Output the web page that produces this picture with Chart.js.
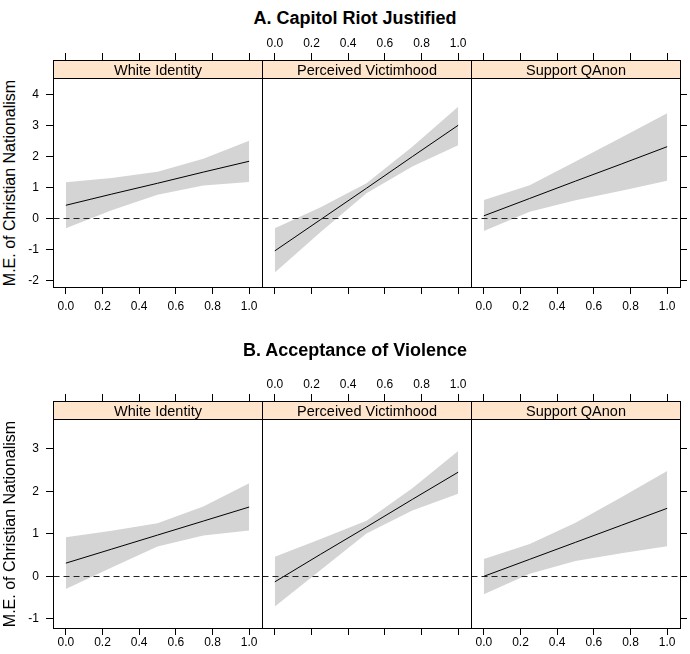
<!DOCTYPE html>
<html>
<head>
<meta charset="utf-8">
<script src="https://cdn.jsdelivr.net/npm/chart.js@4.4.0/dist/chart.umd.min.js"></script>
<style>
  body { margin: 0; background: #fff; }
  #wrap { position: relative; width: 690px; height: 654px; overflow: hidden; }
  #wrap canvas { position: absolute; left: 0; top: 0; }
  .title { position: absolute; left: 0; width: 710px; text-align: center;
           font: bold 18px "Liberation Sans", Arial, sans-serif; line-height: 18px; color: #000; }
  .ylab { position: absolute; white-space: nowrap; color: #000;
          font: 16px "Liberation Sans", Arial, sans-serif; line-height: 16px;
          transform: translate(-50%, -50%) rotate(-90deg); }
</style>
</head>
<body>
<div id="wrap"></div>
<script>
// shared axes
const xTicks = [0, 0.2, 0.4, 0.6, 0.8, 1.0];
const xGrid = [0, 0.25, 0.5, 0.75, 1.0];
const panelNames = ['White Identity', 'Perceived Victimhood', 'Support QAnon'];
const yLabel = 'M.E. of Christian Nationalism';

// A. Capitol Riot Justified
const riotTicksY = [-2, -1, 0, 1, 2, 3, 4];
const riotFit = [
  [0.42, 0.78, 1.13, 1.49, 1.84],
  [-1.05, -0.04, 0.97, 1.99, 3.00],
  [0.08, 0.64, 1.20, 1.75, 2.31]
];
const riotUpper = [
  [1.16, 1.30, 1.50, 1.92, 2.50],
  [-0.32, 0.36, 1.13, 2.31, 3.60],
  [0.59, 1.07, 1.83, 2.61, 3.39]
];
const riotLower = [
  [-0.32, 0.26, 0.76, 1.06, 1.17],
  [-1.75, -0.44, 0.81, 1.67, 2.36],
  [-0.41, 0.21, 0.58, 0.89, 1.21]
];

// B. Acceptance of Violence
const violTicksY = [-1, 0, 1, 2, 3];
const violFit = [
  [0.31, 0.64, 0.97, 1.30, 1.63],
  [-0.13, 0.52, 1.16, 1.81, 2.45],
  [0.00, 0.40, 0.80, 1.20, 1.60]
];
const violUpper = [
  [0.92, 1.07, 1.25, 1.64, 2.19],
  [0.46, 0.88, 1.31, 2.07, 2.95],
  [0.41, 0.76, 1.26, 1.86, 2.48]
];
const violLower = [
  [-0.30, 0.21, 0.70, 0.96, 1.08],
  [-0.71, 0.15, 1.01, 1.55, 1.94],
  [-0.42, 0.06, 0.36, 0.54, 0.71]
];

const FONT = '"Liberation Sans", Arial, Helvetica, sans-serif';
const W = 690, H = 654;
const colEdges = [53, 262, 471, 680];
const stripH = 18;
const tickLen = 7;

const rows = [
  { title: 'A. Capitol Riot Justified', titleTop: 9, fit: riotFit, upper: riotUpper, lower: riotLower,
    yTicks: riotTicksY, stripTop: 60, bottom: 287, yMin: -2.216, yMax: 5.106, hb: 30, bottomPad: 5.5 },
  { title: 'B. Acceptance of Violence', titleTop: 341, fit: violFit, upper: violUpper, lower: violLower,
    yTicks: violTicksY, stripTop: 401, bottom: 628, yMin: -1.216, yMax: 4.125, hb: 26, bottomPad: 0 }
];

const pts = (ys) => xGrid.map((x, i) => ({ x: x, y: ys[i] }));

// strip, border and dashed zero line for each panel
const panelDeco = {
  id: 'panelDeco',
  afterDatasetsDraw(chart, args, opts) {
    const ctx = chart.ctx;
    const a = chart.chartArea;
    const y0 = Math.round(chart.scales.y.getPixelForValue(0)) + 0.5;
    const l = Math.round(a.left) + 0.5, r = Math.round(a.right) + 0.5;
    const t = Math.round(a.top) + 0.5, b = Math.round(a.bottom) + 0.5;
    ctx.save();
    ctx.lineWidth = 1;
    ctx.strokeStyle = '#222';
    ctx.setLineDash([6, 4]);
    ctx.beginPath();
    ctx.moveTo(l, y0);
    ctx.lineTo(r, y0);
    ctx.stroke();
    ctx.setLineDash([]);
    ctx.fillStyle = '#ffe5cc';
    ctx.fillRect(l, t, r - l, opts.stripH);
    ctx.strokeStyle = '#000';
    ctx.strokeRect(l, t, r - l, opts.stripH);
    ctx.strokeRect(l, t, r - l, b - t);
    ctx.fillStyle = '#000';
    ctx.font = '14.5px ' + FONT;
    ctx.textAlign = 'center';
    ctx.textBaseline = 'middle';
    ctx.fillText(opts.label, (l + r) / 2, t + opts.stripH / 2 + 1);
    ctx.restore();
  }
};

const wrap = document.getElementById('wrap');

function tickGrid() {
  return { drawOnChartArea: false, drawTicks: true, tickLength: tickLen, color: '#000', lineWidth: 1 };
}

rows.forEach(row => {
  const t = document.createElement('div');
  t.className = 'title';
  t.style.top = row.titleTop + 'px';
  t.textContent = row.title;
  wrap.appendChild(t);

  const yl = document.createElement('div');
  yl.className = 'ylab';
  yl.style.left = '10px';
  yl.style.top = ((row.stripTop + stripH + row.bottom) / 2) + 'px';
  yl.textContent = yLabel;
  wrap.appendChild(yl);

  panelNames.forEach((name, col) => {
    const cv = document.createElement('canvas');
    cv.width = W;
    cv.height = H;
    wrap.appendChild(cv);

    const L = colEdges[col], R = colEdges[col + 1];
    const wl = col === 0 ? L : 0;        // left axis width (col 0 only)
    const wr = col === 2 ? W - R : 0;    // right axis width (col 2 only)
    const ht = 28;

    new Chart(cv, {
      type: 'line',
      data: {
        datasets: [
          { data: pts(row.lower[col]), borderColor: 'transparent', borderWidth: 0, pointRadius: 0,
            fill: false, order: 2 },
          { data: pts(row.upper[col]), borderColor: 'transparent', borderWidth: 0, pointRadius: 0,
            fill: '-1', backgroundColor: '#d4d4d4', order: 1 },
          { data: pts(row.fit[col]), borderColor: '#000', borderWidth: 1, pointRadius: 0,
            fill: false, tension: 0, order: 0 }
        ]
      },
      options: {
        responsive: false,
        animation: false,
        events: [],
        layout: { padding: { left: L - wl, right: W - R - wr, top: row.stripTop - ht, bottom: H - row.bottom - row.hb } },
        plugins: {
          legend: { display: false },
          tooltip: { enabled: false },
          panelDeco: { label: name, stripH: stripH }
        },
        scales: {
          x: {
            type: 'linear', position: 'bottom', min: -0.07, max: 1.07,
            afterBuildTicks: s => { s.ticks = xTicks.map(v => ({ value: v })); },
            afterFit: s => { s.height = row.hb; },
            grid: tickGrid(),
            border: { display: false },
            ticks: { padding: row.bottomPad, color: '#000', font: { family: FONT, size: 12 },
                     callback: v => (col === 1 ? '' : v.toFixed(1)) }
          },
          xTop: {
            type: 'linear', position: 'top', min: -0.07, max: 1.07,
            afterBuildTicks: s => { s.ticks = xTicks.map(v => ({ value: v })); },
            afterFit: s => { s.height = ht; },
            grid: tickGrid(),
            border: { display: false },
            ticks: { padding: 2.5, color: '#000', font: { family: FONT, size: 12 },
                     callback: v => (col === 1 ? v.toFixed(1) : '') }
          },
          y: {
            type: 'linear', position: 'left', display: col === 0, min: row.yMin, max: row.yMax,
            afterBuildTicks: s => { s.ticks = row.yTicks.map(v => ({ value: v })); },
            afterFit: s => { s.width = wl; },
            grid: tickGrid(),
            border: { display: false },
            ticks: { padding: 7, color: '#000', font: { family: FONT, size: 12 },
                     callback: v => String(v) }
          },
          yRight: {
            type: 'linear', position: 'right', display: col === 2, min: row.yMin, max: row.yMax,
            afterBuildTicks: s => { s.ticks = row.yTicks.map(v => ({ value: v })); },
            afterFit: s => { s.width = wr; },
            grid: tickGrid(),
            border: { display: false },
            ticks: { padding: 0, callback: () => '' }
          }
        }
      },
      plugins: [panelDeco]
    });
  });
});
</script>
</body>
</html>
